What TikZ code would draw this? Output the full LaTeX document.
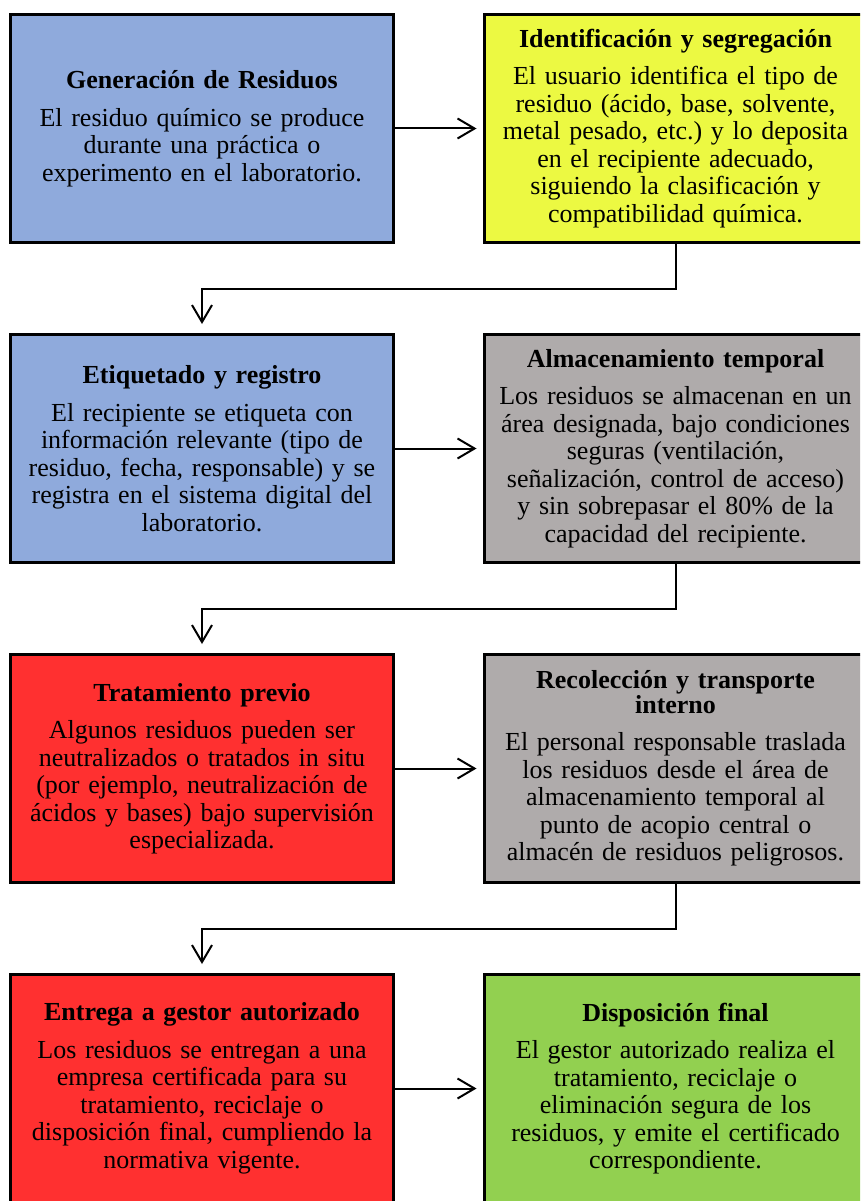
\documentclass[tikz,border=0pt]{standalone}
\usepackage{fontspec}
\setmainfont{Liberation Serif}
\usetikzlibrary{arrows.meta}

\definecolor{azul}{RGB}{143,170,220}
\definecolor{amarillo}{RGB}{236,249,66}
\definecolor{gris}{RGB}{175,171,171}
\definecolor{rojo}{RGB}{255,48,48}
\definecolor{verde}{RGB}{146,208,80}

\newcommand{\etapa}[2]{{\bfseries\fontsize{26}{25}\selectfont #1\par}\vspace{10pt}#2}

\tikzset{
  caja/.style={draw=black, line width=3pt, minimum width=383pt, minimum height=228pt,
    text width=370pt, align=center, inner sep=0pt,
    font=\fontsize{26}{27.5}\selectfont\frenchspacing},
  flujo/.style={line width=2pt, -{Straight Barb[length=17pt,width=20pt]}, shorten >=6pt},
}

\begin{document}
\begin{tikzpicture}[x=1pt,y=1pt]

\useasboundingbox (0,0) rectangle (860,-1201);
\clip (0,0) rectangle (860,-1201);

% fila 1
\node [caja, fill=azul] (gen) at (202,-128.5)
  {\etapa{Generación de Residuos}{El residuo químico se produce\\durante una práctica o\\experimento en el laboratorio.}};
\node [caja, fill=amarillo] (ident) at (675.5,-128.5)
  {\etapa{Identificación y segregación}{El usuario identifica el tipo de\\residuo (ácido, base, solvente,\\metal pesado, etc.) y lo deposita\\en el recipiente adecuado,\\siguiendo la clasificación y\\compatibilidad química.}};

% fila 2
\node [caja, fill=azul] (etiq) at (202,-448.5)
  {\etapa{Etiquetado y registro}{El recipiente se etiqueta con\\información relevante (tipo de\\residuo, fecha, responsable) y se\\registra en el sistema digital del\\laboratorio.}};
\node [caja, fill=gris] (almac) at (675.5,-448.5)
  {\etapa{Almacenamiento temporal}{Los residuos se almacenan en un\\área designada, bajo condiciones\\seguras (ventilación,\\señalización, control de acceso)\\y sin sobrepasar el 80\% de la\\capacidad del recipiente.}};

% fila 3
\node [caja, fill=rojo] (trat) at (202,-768.5)
  {\etapa{Tratamiento previo}{Algunos residuos pueden ser\\neutralizados o tratados in situ\\(por ejemplo, neutralización de\\ácidos y bases) bajo supervisión\\especializada.}};
\node [caja, fill=gris] (recol) at (675.5,-768.5)
  {\etapa{Recolección y transporte\\interno}{El personal responsable traslada\\los residuos desde el área de\\almacenamiento temporal al\\punto de acopio central o\\almacén de residuos peligrosos.}};

% fila 4
\node [caja, fill=rojo] (entrega) at (202,-1088.5)
  {\etapa{Entrega a gestor autorizado}{Los residuos se entregan a una\\empresa certificada para su\\tratamiento, reciclaje o\\disposición final, cumpliendo la\\normativa vigente.}};
\node [caja, fill=verde] (disp) at (675.5,-1088.5)
  {\etapa{Disposición final}{El gestor autorizado realiza el\\tratamiento, reciclaje o\\eliminación segura de los\\residuos, y emite el certificado\\correspondiente.}};

% conectores
\draw [flujo] (gen.east) -- (ident.west);
\draw [flujo, shorten >=9pt] (ident.south) -- ++(0,-44.5) -| (etiq.north);
\draw [flujo] (etiq.east) -- (almac.west);
\draw [flujo, shorten >=9pt] (almac.south) -- ++(0,-44.5) -| (trat.north);
\draw [flujo] (trat.east) -- (recol.west);
\draw [flujo, shorten >=9pt] (recol.south) -- ++(0,-44.5) -| (entrega.north);
\draw [flujo] (entrega.east) -- (disp.west);

\end{tikzpicture}
\end{document}
